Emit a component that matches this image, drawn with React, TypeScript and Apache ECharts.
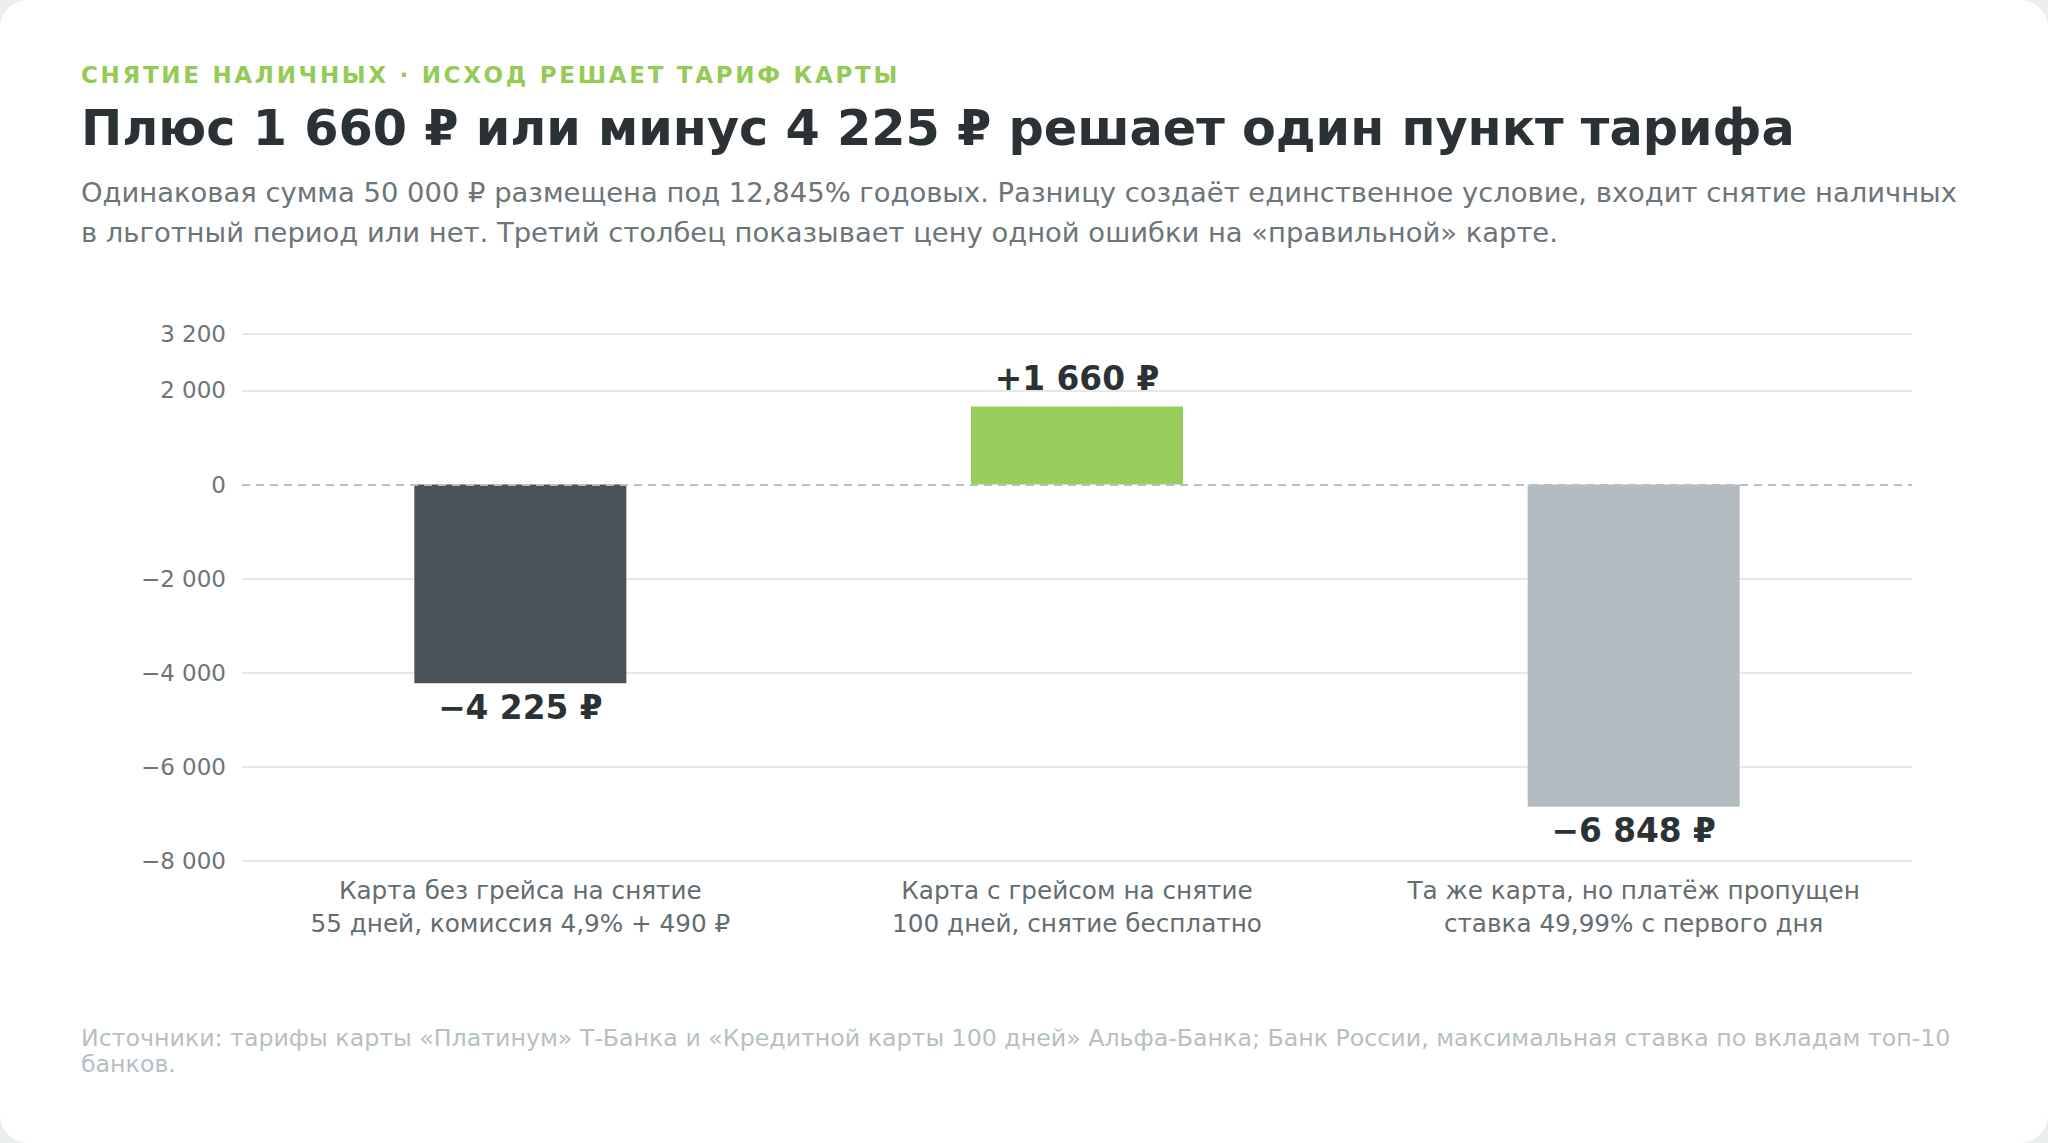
import React, { useRef, useEffect } from 'react';
import * as echarts from 'echarts';

const categories = [
  'Карта без грейса на снятие\n55 дней, комиссия 4,9% + 490 ₽',
  'Карта с грейсом на снятие\n100 дней, снятие бесплатно',
  'Та же карта, но платёж пропущен\nставка 49,99% с первого дня',
];
const values = [-4225, 1660, -6848];
const barColors = ['#4b5257', '#97ce5b', '#b2bcc1'];
const yTicks = { min: -8000, max: 3200, interval: 2000 };

const TAG = 'СНЯТИЕ НАЛИЧНЫХ · ИСХОД РЕШАЕТ ТАРИФ КАРТЫ';
const TITLE = 'Плюс 1 660 ₽ или минус 4 225 ₽ решает один пункт тарифа';
const SUBTITLE =
  'Одинаковая сумма 50 000 ₽ размещена под 12,845% годовых. Разницу создаёт единственное условие, входит снятие наличных\nв льготный период или нет. Третий столбец показывает цену одной ошибки на «правильной» карте.';
const FOOTER =
  'Источники: тарифы карты «Платинум» Т-Банка и «Кредитной карты 100 дней» Альфа-Банка; Банк России, максимальная ставка по вкладам топ-10\nбанков.';

const FONT = '"DejaVu Sans", sans-serif';

const fmt = (v: number) => {
  const s = Math.abs(v).toString().replace(/\B(?=(\d{3})+(?!\d))/g, ' ');
  return v < 0 ? '−' + s : s;
};
const fmtLabel = (v: number) => (v > 0 ? '+' : '') + fmt(v) + ' ₽';

const App: React.FC = () => {
  const chartRef = useRef<HTMLDivElement>(null);

  useEffect(() => {
    document.body.style.margin = '0';
    if (!chartRef.current) return;
    const chart = echarts.init(chartRef.current, undefined, { renderer: 'svg' });

    const option: echarts.EChartsOption = {
      animation: false,
      textStyle: { fontFamily: FONT },
      graphic: [
        {
          type: 'text',
          left: 81,
          top: 63,
          style: {
            text: TAG,
            fontFamily: FONT,
            fontSize: 23,
            fontWeight: 'bold',
            fill: '#94cb57',
          },
        },
        {
          type: 'text',
          left: 81,
          top: 103,
          style: {
            text: TITLE,
            fontFamily: FONT,
            fontSize: 49.3,
            fontWeight: 'bold',
            fill: '#2b3235',
          },
        },
        {
          type: 'text',
          left: 81,
          top: 172,
          style: {
            text: SUBTITLE,
            fontFamily: FONT,
            fontSize: 27.4,
            lineHeight: 40,
            fill: '#6c7579',
          },
        },
        {
          type: 'text',
          left: 81,
          top: 1025,
          style: {
            text: FOOTER,
            fontFamily: FONT,
            fontSize: 23.7,
            lineHeight: 26,
            fill: '#b5c0c5',
          },
        },
      ],
      grid: { left: 242, right: 136, top: 334, bottom: 282 },
      xAxis: {
        type: 'category',
        data: categories,
        axisLine: { show: false },
        axisTick: { show: false },
        axisLabel: {
          color: '#636d71',
          fontSize: 24.7,
          lineHeight: 33,
          margin: 13,
          fontFamily: FONT,
          interval: 0,
        },
      },
      yAxis: {
        type: 'value',
        min: yTicks.min,
        max: yTicks.max,
        interval: yTicks.interval,
        axisLine: { show: false },
        axisTick: { show: false },
        axisLabel: {
          color: '#6c7579',
          fontSize: 23,
          margin: 16,
          fontFamily: FONT,
          formatter: (v: number) => fmt(v),
        },
        splitLine: {
          lineStyle: {
            color: ['#e4e8eb', '#e4e8eb', '#e4e8eb', '#e4e8eb', 'rgba(0,0,0,0)', '#e4e8eb', '#e4e8eb'],
            width: 2,
          },
        },
      },
      series: [
        {
          type: 'bar',
          barWidth: 212,
          data: values.map((v, i) => ({
            value: v,
            itemStyle: { color: barColors[i] },
            label: { position: v >= 0 ? 'top' : 'bottom', distance: v >= 0 ? 11 : 8 },
          })),
          label: {
            show: true,
            fontSize: 32.8,
            fontWeight: 'bold',
            color: '#2b3235',
            fontFamily: FONT,
            formatter: (p: any) => fmtLabel(p.value),
          },
          markLine: {
            silent: true,
            symbol: 'none',
            label: { show: false },
            lineStyle: { color: '#b9bec2', type: [8, 6], width: 2 },
            data: [{ yAxis: 0 }],
          },
        },
      ],
    };

    chart.setOption(option);

    // zrender has no letter-spacing, so set it on the rendered tag text
    const spaceTag = () => {
      chartRef.current?.querySelectorAll('text').forEach((t) => {
        if (t.textContent === TAG) t.setAttribute('letter-spacing', '2.7');
      });
    };
    spaceTag();
    chart.on('finished', spaceTag);

    return () => chart.dispose();
  }, []);

  return (
    <div style={{ position: 'fixed', inset: 0, width: 2048, height: 1143, background: '#eceff0' }}>
      <div
        style={{
          width: 2048,
          height: 1143,
          background: '#ffffff',
          borderRadius: 28,
          overflow: 'hidden',
        }}
      >
        <div ref={chartRef} style={{ width: 2048, height: 1143 }} />
      </div>
    </div>
  );
};

export default App;
